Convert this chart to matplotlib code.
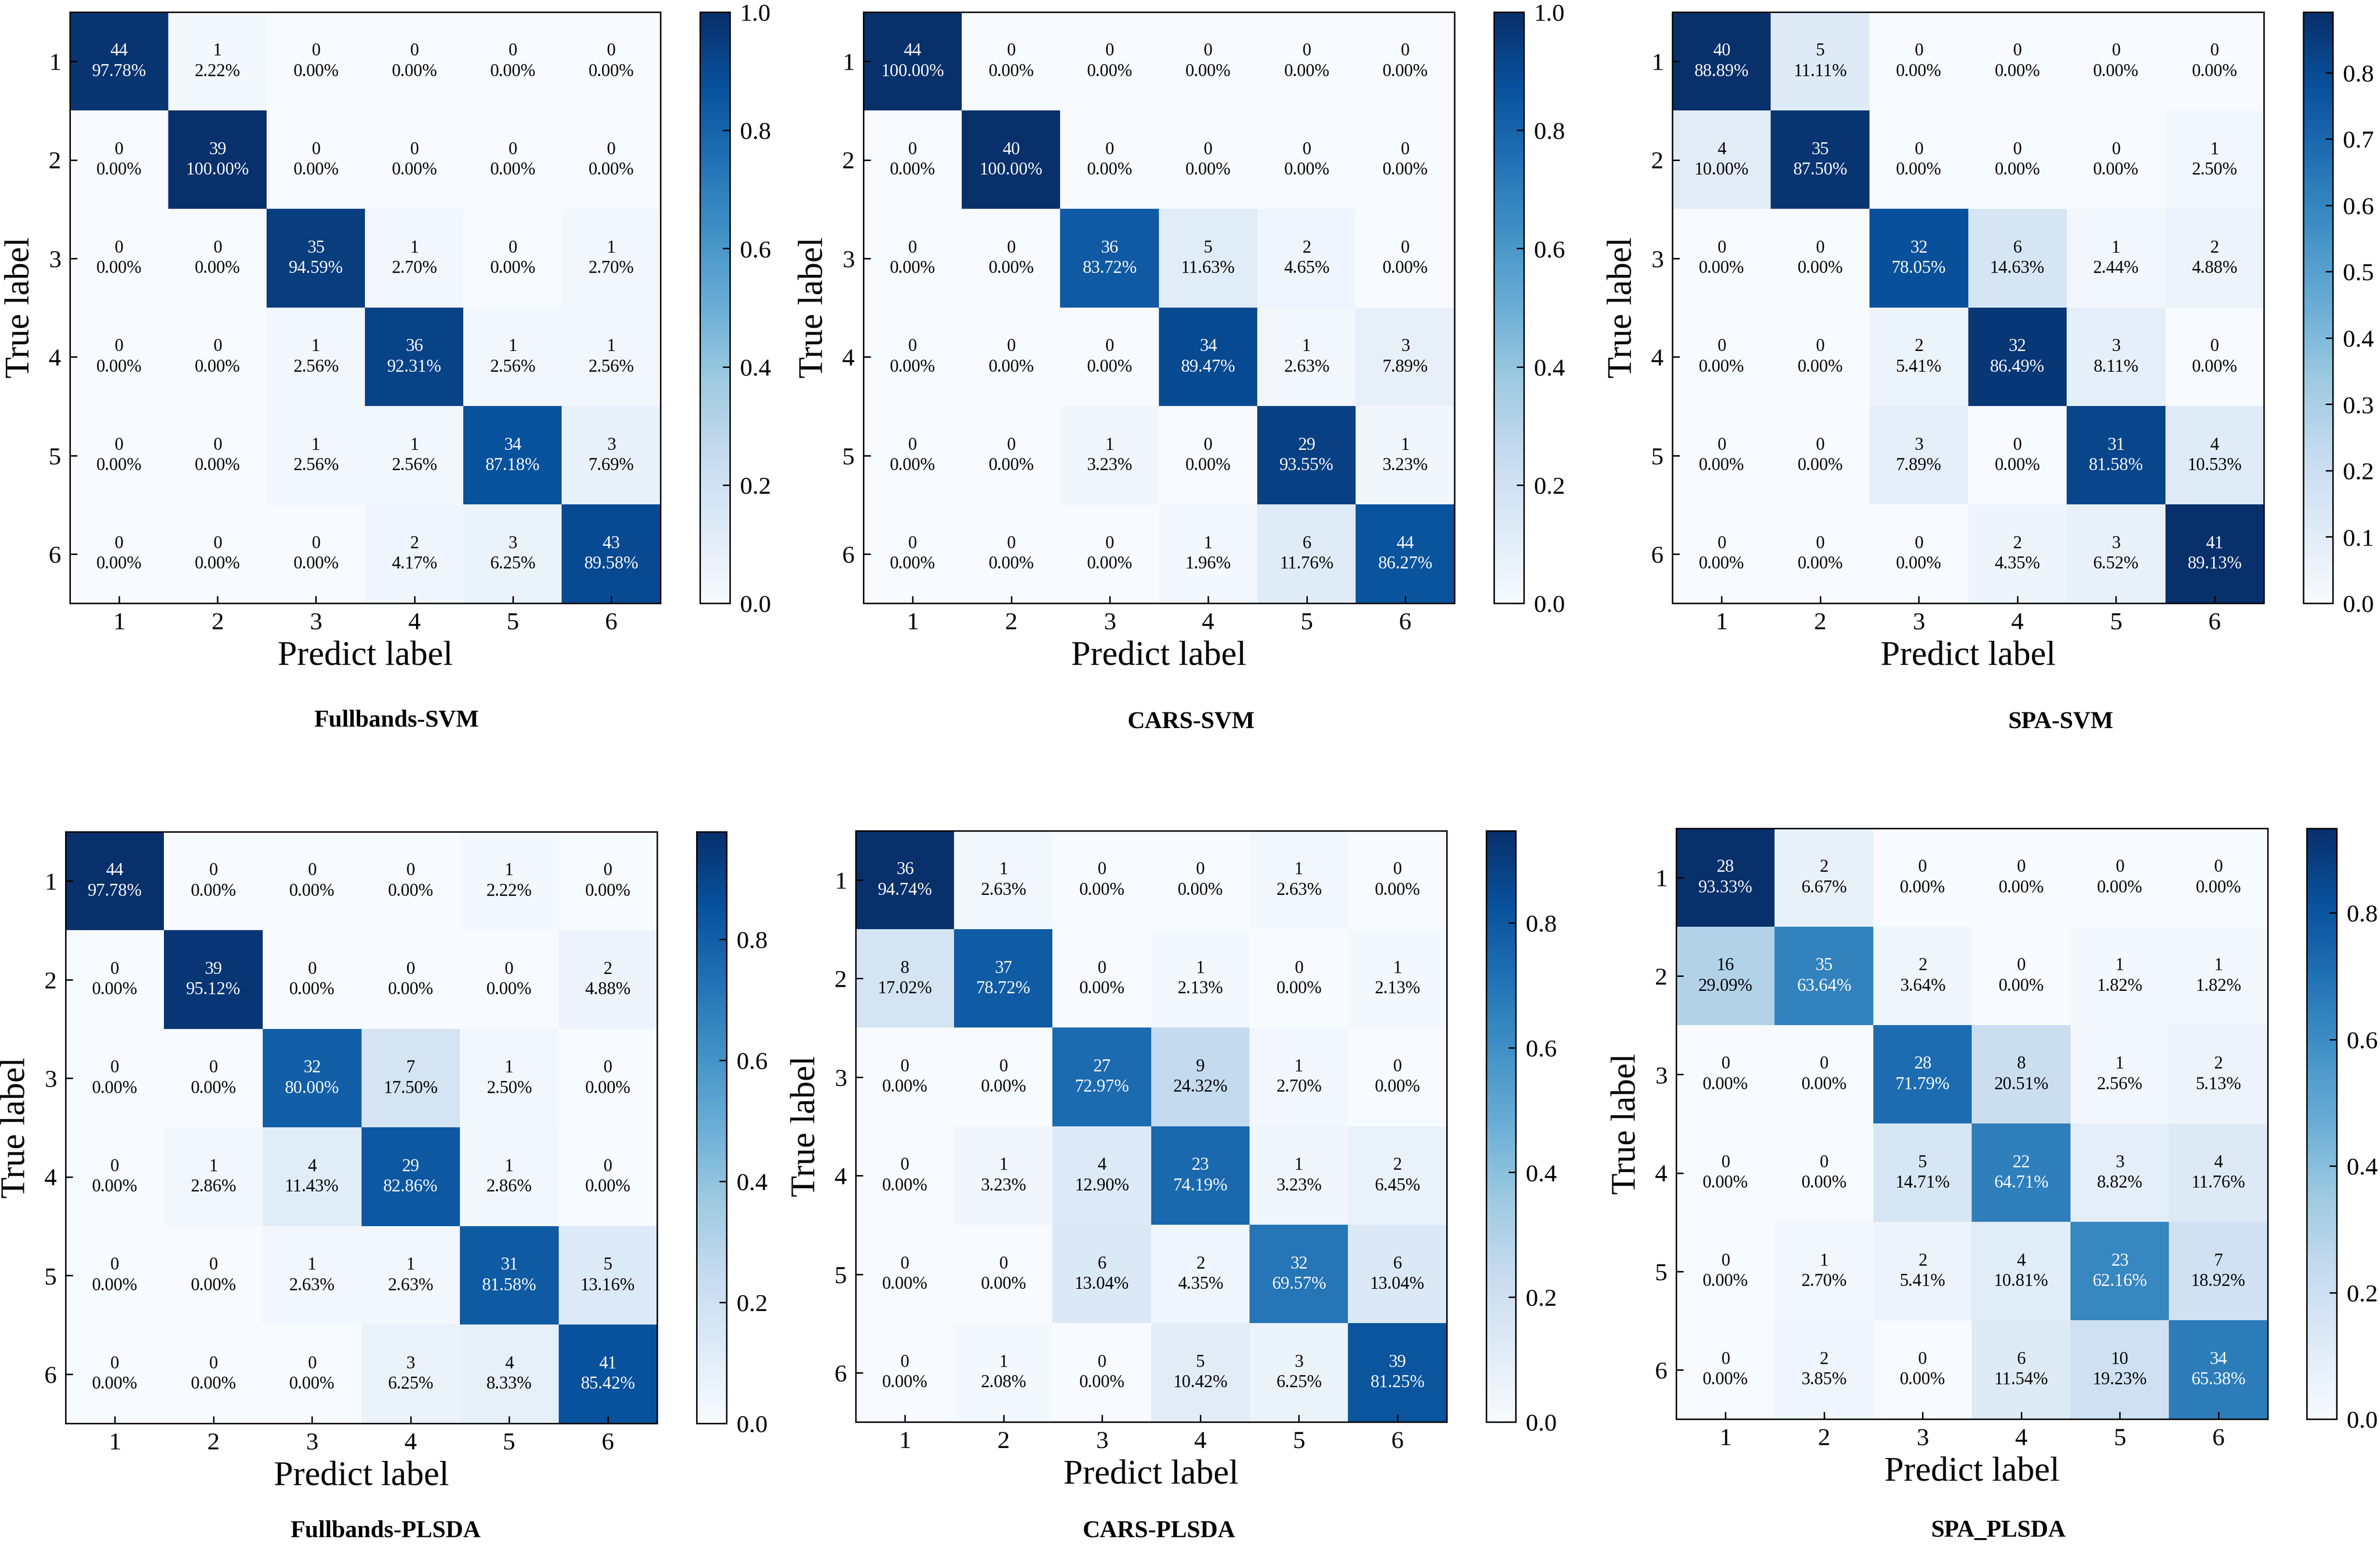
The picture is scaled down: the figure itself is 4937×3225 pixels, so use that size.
import numpy as np
import matplotlib.pyplot as plt

plt.rcParams['font.family'] = ['Liberation Serif', 'DejaVu Serif']

# 类别标签
labels = ['1', '2', '3', '4', '5', '6']

# 六个模型的混淆矩阵（计数）
names = ['Fullbands-SVM', 'CARS-SVM', 'SPA-SVM',
         'Fullbands-PLSDA', 'CARS-PLSDA', 'SPA_PLSDA']

cm_full_svm = [[44, 1, 0, 0, 0, 0],
               [0, 39, 0, 0, 0, 0],
               [0, 0, 35, 1, 0, 1],
               [0, 0, 1, 36, 1, 1],
               [0, 0, 1, 1, 34, 3],
               [0, 0, 0, 2, 3, 43]]

cm_cars_svm = [[44, 0, 0, 0, 0, 0],
               [0, 40, 0, 0, 0, 0],
               [0, 0, 36, 5, 2, 0],
               [0, 0, 0, 34, 1, 3],
               [0, 0, 1, 0, 29, 1],
               [0, 0, 0, 1, 6, 44]]

cm_spa_svm = [[40, 5, 0, 0, 0, 0],
              [4, 35, 0, 0, 0, 1],
              [0, 0, 32, 6, 1, 2],
              [0, 0, 2, 32, 3, 0],
              [0, 0, 3, 0, 31, 4],
              [0, 0, 0, 2, 3, 41]]

cm_full_plsda = [[44, 0, 0, 0, 1, 0],
                 [0, 39, 0, 0, 0, 2],
                 [0, 0, 32, 7, 1, 0],
                 [0, 1, 4, 29, 1, 0],
                 [0, 0, 1, 1, 31, 5],
                 [0, 0, 0, 3, 4, 41]]

cm_cars_plsda = [[36, 1, 0, 0, 1, 0],
                 [8, 37, 0, 1, 0, 1],
                 [0, 0, 27, 9, 1, 0],
                 [0, 1, 4, 23, 1, 2],
                 [0, 0, 6, 2, 32, 6],
                 [0, 1, 0, 5, 3, 39]]

cm_spa_plsda = [[28, 2, 0, 0, 0, 0],
                [16, 35, 2, 0, 1, 1],
                [0, 0, 28, 8, 1, 2],
                [0, 0, 5, 22, 3, 4],
                [0, 1, 2, 4, 23, 7],
                [0, 2, 0, 6, 10, 34]]

matrices = [cm_full_svm, cm_cars_svm, cm_spa_svm,
            cm_full_plsda, cm_cars_plsda, cm_spa_plsda]

# 颜色条刻度间隔
cbar_steps = [0.2, 0.2, 0.1, 0.2, 0.2, 0.2]

# 画布尺寸（像素）
W, H = 4937, 3225
fig = plt.figure(figsize=(W / 100, H / 100), dpi=100)


def rect(l, t, r, b):
    return [l / W, 1 - b / H, (r - l) / W, (b - t) / H]


# 每个子图的位置：坐标轴(左,上,右,下)、颜色条(左,右)、标题中心
layout = [
    ((145, 25, 1370, 1251), (1452, 1514), (822, 1495)),
    ((1791, 25, 3017, 1251), (3099, 3161), (2471, 1498)),
    ((3469, 25, 4696, 1251), (4778, 4839), (4275, 1498)),
    ((136, 1725, 1363, 2952), (1445, 1507), (800, 3175)),
    ((1775, 1723, 3001, 2949), (3083, 3144), (2404, 3175)),
    ((3477, 1718, 4704, 2943), (4785, 4847), (4145, 3175)),
]

lw = 2.2
for cm, name, step, (axr, cbr, tpos) in zip(matrices, names, cbar_steps, layout):
    cm = np.array(cm)
    norm = cm / cm.sum(axis=1, keepdims=True)

    l, t, r, b = axr
    ax = fig.add_axes(rect(l, t, r, b))
    im = ax.imshow(norm, cmap='Blues', aspect='auto', interpolation='nearest')

    thresh = norm.max() / 2
    for i in range(6):
        for j in range(6):
            ax.text(j, i, f'{cm[i, j]}\n{norm[i, j] * 100:.2f}%',
                    ha='center', va='center', fontsize=26.5, linespacing=1.3,
                    color='white' if norm[i, j] > thresh else 'black')

    ax.set_xticks(range(6))
    ax.set_yticks(range(6))
    ax.set_xticklabels(labels)
    ax.set_yticklabels(labels)
    ax.tick_params(direction='in', length=11, width=lw, labelsize=37, pad=13)
    for s in ax.spines.values():
        s.set_linewidth(lw)

    ax.set_xlabel('Predict label', fontsize=52)
    ax.xaxis.set_label_coords(0.5, -111 / 1225)
    ax.xaxis.label.set_verticalalignment('center')
    ax.set_ylabel('True label', fontsize=52)
    ax.yaxis.set_label_coords(-102 / 1225, 0.5)
    ax.yaxis.label.set_verticalalignment('center')

    cax = fig.add_axes(rect(cbr[0], t, cbr[1], b))
    cbar = fig.colorbar(im, cax=cax)
    cbar.set_ticks(np.arange(0, norm.max() + 1e-9, step))
    cbar.ax.tick_params(direction='in', length=11, width=lw, labelsize=37, pad=15)
    cbar.outline.set_linewidth(lw)

    fig.text(tpos[0] / W, 1 - tpos[1] / H, name, ha='center', va='center',
             fontsize=36, fontweight='bold')

fig.savefig('out.png', dpi=100, facecolor='white')
